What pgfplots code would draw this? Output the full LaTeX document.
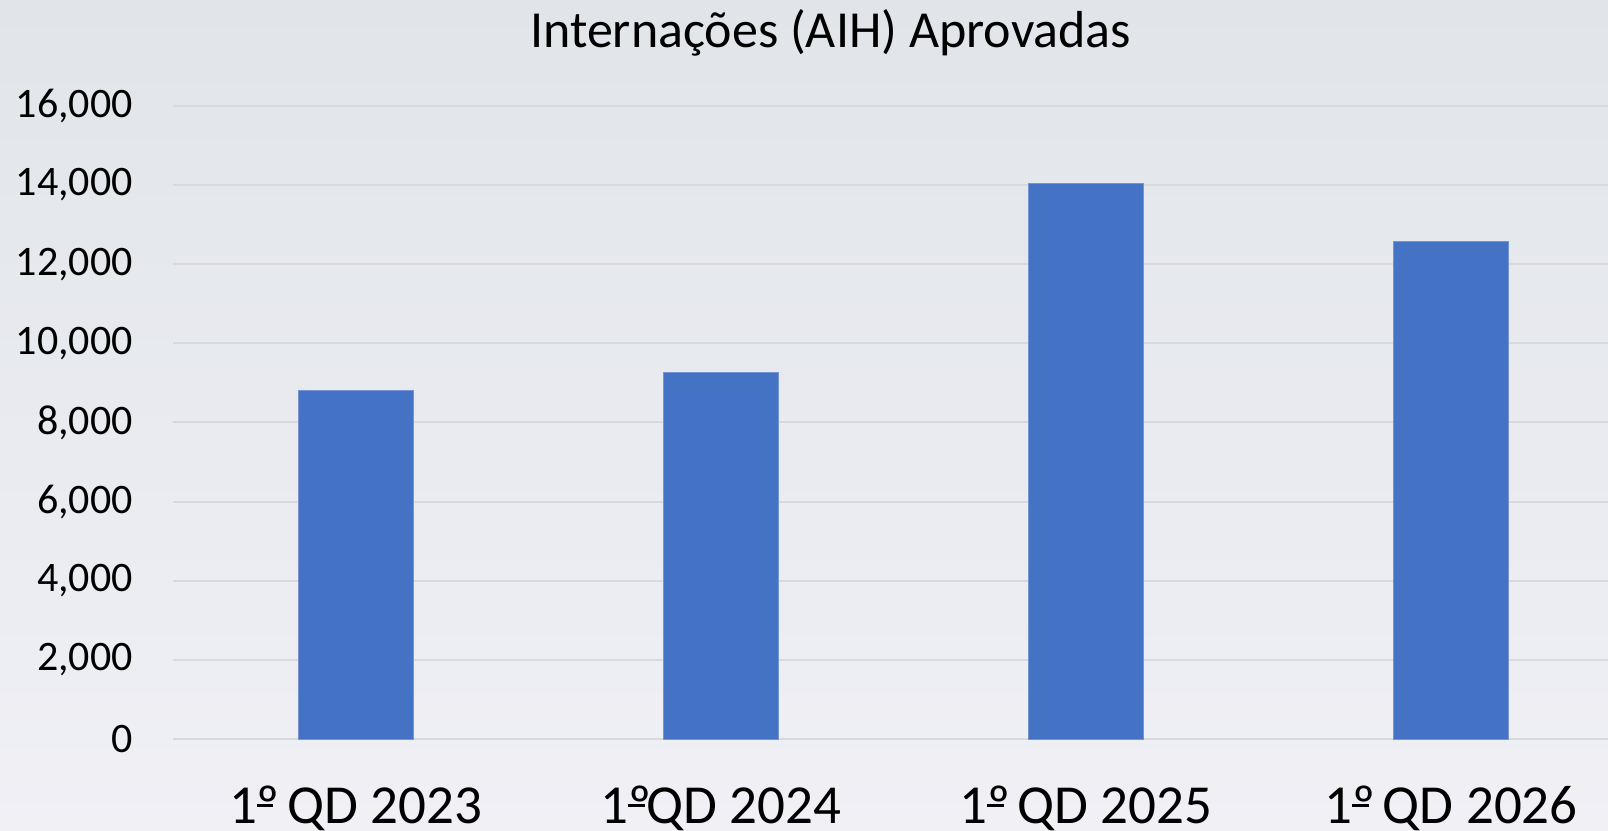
\documentclass[border=0pt]{standalone}
\usepackage{fontspec}
\setmainfont{Carlito}
\usepackage{pgfplots}
\pgfplotsset{compat=1.18}
\usetikzlibrary{backgrounds}
\definecolor{barblue}{RGB}{68,114,196}
\definecolor{bgtop}{RGB}{225,229,234}
\definecolor{bgmid}{RGB}{232,232,237}
\definecolor{bgbot}{RGB}{240,240,245}
\definecolor{gridgray}{RGB}{217,217,217}
% underlined ordinal sign, as in Calibri
\newcommand{\ordm}{\rlap{º}\raisebox{0.3em}{\rule{0.3em}{0.055em}}\kern0.03em}

\begin{document}
\begin{tikzpicture}
\begin{axis}[
  scale only axis, width=717.5pt, height=316.8pt,
  xmin=-0.5, xmax=3.43, ymin=0, ymax=16000,
  ytick={0,2000,...,16000},
  scaled y ticks=false,
  xtick={0,1,2,3},
  xticklabels={1\ordm{} QD 2023, 1\ordm{}QD 2024, 1\ordm{} QD 2025, 1\ordm{} QD 2026},
  axis line style={draw=none},
  major tick length=0pt,
  ymajorgrids, grid style={gridgray, line width=1pt},
  ybar, bar width=57.5pt,
  /pgf/number format/1000 sep={,},
  /pgf/number format/assume math mode=true,
  yticklabel style={font=\fontsize{21}{21}\selectfont, anchor=east, inner sep=0pt, xshift=-20pt,
    /pgf/number format/fixed},
  xticklabel style={font=\fontsize{27.5}{27.5}\selectfont, anchor=north, inner sep=0pt,
    text depth=0pt, yshift=-23pt},
  clip=false,
]
\addplot[fill=barblue, draw=barblue!75!white, line width=0.5pt] coordinates {(0,8800)(1,9270)(2,14040)(3,12580)};
\coordinate (bl) at (rel axis cs:-0.1206,-0.1447);
\coordinate (tr) at (rel axis cs:1,1.1668);
\node[font=\fontsize{26}{26}\selectfont, anchor=base] at (rel axis cs:0.4583,1.0911) {Internações (AIH) Aprovadas};
\end{axis}
\begin{scope}[on background layer]
\shade[top color=bgtop, middle color=bgmid, bottom color=bgbot] (bl) rectangle (tr);
\end{scope}
\pgfresetboundingbox
\useasboundingbox (bl) rectangle (tr);
\end{tikzpicture}
\end{document}
